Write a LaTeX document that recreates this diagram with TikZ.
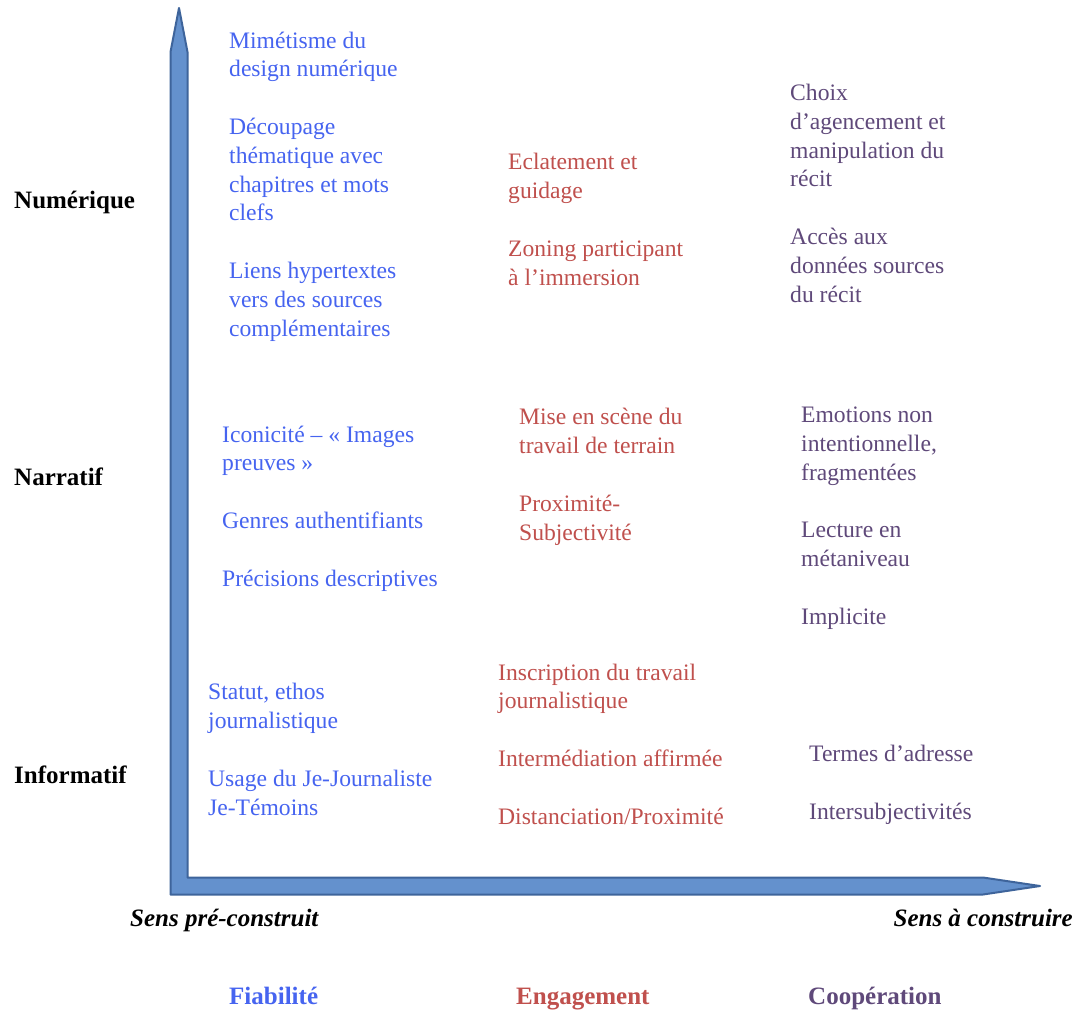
\documentclass[tikz,border=0pt]{standalone}
\usepackage{fontspec}
\setmainfont{Liberation Serif}
\definecolor{cblue}{RGB}{70,100,240}
\definecolor{cred}{RGB}{192,80,77}
\definecolor{cpurple}{RGB}{95,73,122}
\definecolor{axfill}{RGB}{100,145,205}
\definecolor{axedge}{RGB}{62,100,155}
\begin{document}
\begin{tikzpicture}[x=1pt,y=-1pt,
  item/.style={anchor=base west, inner sep=0pt, align=left,
    font=\fontsize{23.6}{28.8}\selectfont},
  fiab/.style={item, text=cblue},
  enga/.style={item, text=cred},
  coop/.style={item, text=cpurple},
  rowlab/.style={anchor=base west, inner sep=0pt, font=\fontsize{25}{30}\selectfont\bfseries},
  sens/.style={inner sep=0pt, font=\fontsize{25}{30}\selectfont\bfseries\itshape},
  collab/.style={anchor=base west, inner sep=0pt, font=\fontsize{25}{30}\selectfont\bfseries}]
\useasboundingbox (0,0) rectangle (1078,1009);
\fill[white] (0,0) rectangle (1078,1009);
% axes
\filldraw[fill=axfill, draw=axedge, line width=2pt, line join=round]
  (170.5,894.5) -- (170.5,52) -- (179,8) -- (187.5,52) -- (187.5,877.5)
  -- (983,877.5) -- (1040,886) -- (983,894.5) -- cycle;
% row labels
\node[rowlab] (num) at (14,208) {Numérique};
\node[rowlab] (nar) at (14,485) {Narratif};
\node[rowlab] (inf) at (14,783) {Informatif};
% (node anchors: baseline of the last line)
% Numérique row
\node[fiab] (f1) at (229,336) {Mimétisme du\\design numérique\\[28.8pt]Découpage\\thématique avec\\chapitres et mots\\clefs\\[28.8pt]Liens hypertextes\\vers des sources\\complémentaires};
\node[enga] (e1) at (508,285) {Eclatement et\\guidage\\[28.8pt]Zoning participant\\à l’immersion};
\node[coop] (c1) at (790,302) {Choix\\d’agencement et\\manipulation du\\récit\\[28.8pt]Accès aux\\données sources\\du récit};
% Narratif row
\node[fiab] (f2) at (222,586) {Iconicité – «~Images\\preuves~»\\[28.8pt]Genres authentifiants\\[28.8pt]Précisions descriptives};
\node[enga] (e2) at (519,540) {Mise en scène du\\travail de terrain\\[28.8pt]Proximité-\\Subjectivité};
\node[coop] (c2) at (801,624) {Emotions non\\intentionnelle,\\fragmentées\\[28.8pt]Lecture en\\métaniveau\\[28.8pt]Implicite};
% Informatif row
\node[fiab] (f3) at (208,815) {Statut, ethos\\journalistique\\[28.8pt]Usage du Je-Journaliste\\Je-Témoins};
\node[enga] (e3) at (498,824) {Inscription du travail\\journalistique\\[28.8pt]Intermédiation affirmée\\[28.8pt]Distanciation/Proximité};
\node[coop] (c3) at (809,819) {Termes d’adresse\\[28.8pt]Intersubjectivités};
% axis ends
\node[sens, anchor=base west] (pre) at (130,926) {Sens pré-construit};
\node[sens, anchor=base east] (aco) at (1073,926) {Sens à construire};
% column labels
\node[collab, text=cblue] (fia) at (229,1004) {Fiabilité};
\node[collab, text=cred] (eng) at (516,1004) {Engagement};
\node[collab, text=cpurple] (coo) at (808,1004) {Coopération};
\end{tikzpicture}
\end{document}
